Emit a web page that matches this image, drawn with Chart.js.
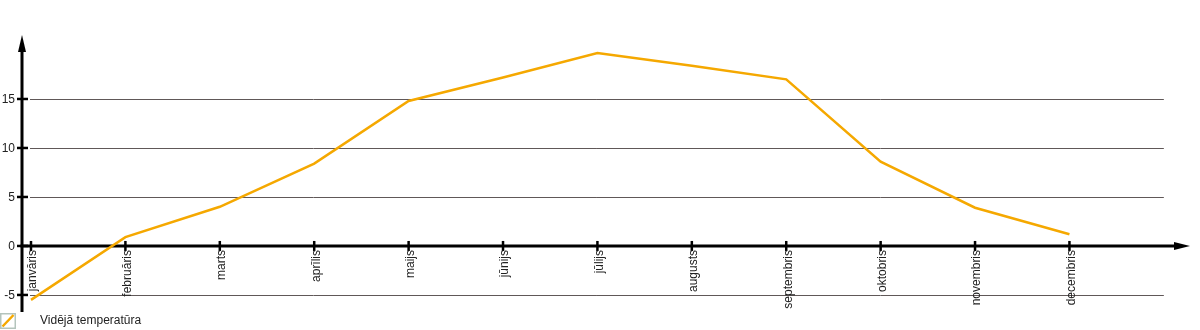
<!DOCTYPE html>
<html>
<head>
<meta charset="utf-8">
<script src="https://cdn.jsdelivr.net/npm/chart.js@4/dist/chart.umd.min.js"></script>
<style>
html,body{margin:0;padding:0;background:#fff;}
#wrap{position:relative;width:1200px;height:330px;}
</style>
</head>
<body>
<div id="wrap"><canvas id="c" width="1200" height="330"></canvas></div>
<script>
const months = ['janvāris','februāris','marts','aprīlis','maijs','jūnijs','jūlijs','augusts','septembris','oktobris','novembris','decembris'];
const avgTemp = [-5.5, 0.9, 4.0, 8.4, 14.8, 17.2, 19.7, 18.4, 17.0, 8.6, 3.9, 1.2];
const yTicks = [-5, 0, 5, 10, 15];
const seriesLabel = 'Vidējā temperatūra';

const FONT = '12px "Liberation Sans", Arial, sans-serif';
const LINE_COLOR = '#f5a800';

const axesPlugin = {
  id: 'axesPlugin',
  beforeDatasetsDraw(chart) {
    const ctx = chart.ctx, xs = chart.scales.x, ys = chart.scales.y, ca = chart.chartArea;
    ctx.save();
    // gridlines
    ctx.strokeStyle = '#605858';
    ctx.lineWidth = 1;
    const gx0 = ca.left + 8, gx1 = xs.getPixelForValue(months.length);
    yTicks.forEach(t => {
      if (t === 0) return;
      const y = Math.round(ys.getPixelForValue(t)) + 0.5;
      ctx.beginPath(); ctx.moveTo(gx0, y); ctx.lineTo(gx1, y); ctx.stroke();
    });
    // axes
    ctx.strokeStyle = '#000';
    ctx.fillStyle = '#000';
    ctx.lineWidth = 3;
    const ax = ca.left, y0 = ys.getPixelForValue(0);
    ctx.beginPath(); ctx.moveTo(ax, ca.top + 10); ctx.lineTo(ax, ca.bottom); ctx.stroke();
    ctx.beginPath(); ctx.moveTo(ax - 1.5, y0); ctx.lineTo(ca.right - 10, y0); ctx.stroke();
    // arrows
    ctx.beginPath(); ctx.moveTo(ax, ca.top); ctx.lineTo(ax - 4, ca.top + 17); ctx.lineTo(ax + 4, ca.top + 17); ctx.closePath(); ctx.fill();
    ctx.beginPath(); ctx.moveTo(ca.right, y0); ctx.lineTo(ca.right - 16, y0 - 4); ctx.lineTo(ca.right - 16, y0 + 4); ctx.closePath(); ctx.fill();
    // y ticks & labels
    ctx.lineWidth = 2.5;
    ctx.font = FONT;
    ctx.textAlign = 'right';
    ctx.textBaseline = 'middle';
    yTicks.forEach(t => {
      const y = ys.getPixelForValue(t);
      ctx.strokeStyle = '#000';
      ctx.beginPath(); ctx.moveTo(ax - 5, y); ctx.lineTo(ax + 6, y); ctx.stroke();
      ctx.fillStyle = '#222';
      ctx.fillText(String(t), ax - 7, y + 0.5);
    });
    // x ticks & labels
    months.forEach((m, i) => {
      const x = xs.getPixelForValue(i);
      ctx.strokeStyle = '#000';
      ctx.lineWidth = 2.5;
      ctx.beginPath(); ctx.moveTo(x, y0 - 5); ctx.lineTo(x, y0 + 5); ctx.stroke();
      ctx.save();
      ctx.translate(x + 2, y0 + 4);
      ctx.rotate(-Math.PI / 2);
      ctx.fillStyle = '#222';
      ctx.textAlign = 'right';
      ctx.textBaseline = 'middle';
      ctx.fillText(m, 0, 0);
      ctx.restore();
    });
    ctx.restore();
  },
  afterDraw(chart) {
    const ctx = chart.ctx;
    ctx.save();
    // legend
    ctx.strokeStyle = '#b4c4bc';
    ctx.lineWidth = 1.5;
    ctx.strokeRect(0.75, 313.75, 14.5, 14.5);
    ctx.strokeStyle = LINE_COLOR;
    ctx.lineWidth = 2.5;
    ctx.beginPath(); ctx.moveTo(2.5, 326.5); ctx.lineTo(13.5, 315); ctx.stroke();
    ctx.fillStyle = '#222';
    ctx.font = FONT;
    ctx.textAlign = 'left';
    ctx.textBaseline = 'middle';
    ctx.fillText(chart.data.datasets[0].label, 40, 321);
    ctx.restore();
  }
};

new Chart(document.getElementById('c'), {
  type: 'line',
  data: {
    datasets: [{
      label: seriesLabel,
      data: months.map((m, i) => ({ x: i, y: avgTemp[i] })),
      borderColor: LINE_COLOR,
      borderWidth: 2.5,
      pointRadius: 0,
      tension: 0,
      fill: false,
      clip: false
    }]
  },
  options: {
    responsive: false,
    animation: false,
    devicePixelRatio: 1,
    layout: { padding: { left: 22, right: 10, top: 35, bottom: 18 } },
    plugins: { legend: { display: false }, tooltip: { enabled: false } },
    scales: {
      x: { type: 'linear', display: false, min: -0.0953, max: 12.277 },
      y: { type: 'linear', display: false, min: -6.74, max: 21.53 }
    }
  },
  plugins: [axesPlugin]
});
</script>
</body>
</html>
